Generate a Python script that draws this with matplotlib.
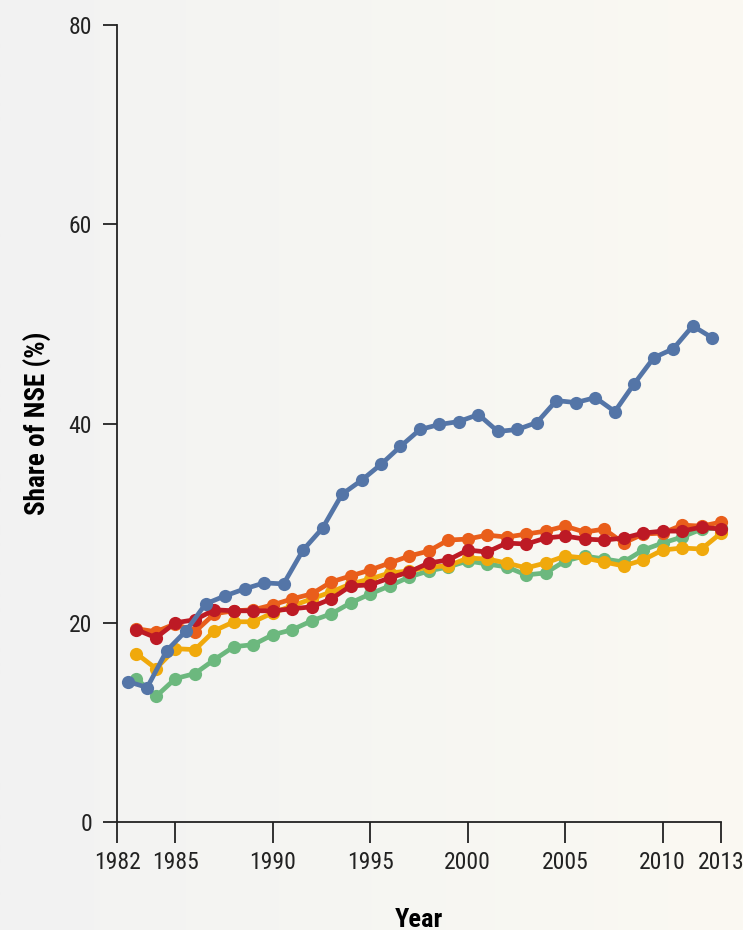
import numpy as np
import matplotlib
matplotlib.use("Agg")
import matplotlib.pyplot as plt
from matplotlib import font_manager
from matplotlib.colors import LinearSegmentedColormap

# ---------------- data ----------------
years = list(range(1983, 2014))
blue_offset = -0.45  # blue series plotted slightly left of the others

blue = [14.1, 13.5, 17.2, 19.2, 21.9, 22.7, 23.4, 24.0, 23.9, 27.3,
        29.5, 32.9, 34.3, 35.9, 37.7, 39.4, 39.9, 40.2, 40.9, 39.2,
        39.4, 40.1, 42.3, 42.1, 42.6, 41.2, 44.0, 46.6, 47.5, 49.8, 48.6]
red = [19.3, 18.5, 20.0, 20.3, 21.3, 21.2, 21.2, 21.2, 21.4, 21.6,
       22.4, 23.7, 23.8, 24.5, 25.1, 26.0, 26.3, 27.3, 27.1, 28.0,
       27.9, 28.5, 28.7, 28.4, 28.3, 28.5, 29.0, 29.2, 29.2, 29.6, 29.4]
orange = [19.4, 19.1, 19.9, 19.1, 20.9, 21.2, 21.3, 21.8, 22.4, 22.9,
          24.1, 24.7, 25.3, 26.0, 26.7, 27.2, 28.3, 28.4, 28.8, 28.6,
          28.9, 29.2, 29.7, 29.1, 29.4, 28.0, 28.9, 29.0, 29.8, 29.7, 30.1]
yellow = [16.9, 15.4, 17.4, 17.3, 19.2, 20.1, 20.1, 21.0, 21.7, 22.4,
          23.1, 23.9, 24.4, 25.0, 25.2, 25.6, 25.7, 26.5, 26.4, 26.0,
          25.5, 26.0, 26.7, 26.5, 26.1, 25.7, 26.3, 27.3, 27.5, 27.4, 29.0]
green = [14.4, 12.6, 14.4, 14.9, 16.3, 17.6, 17.8, 18.8, 19.3, 20.2,
         20.9, 22.0, 22.9, 23.7, 24.6, 25.2, 25.6, 26.2, 25.9, 25.6,
         24.8, 25.0, 26.2, 26.7, 26.4, 26.1, 27.3, 28.0, 28.6, 29.4, 29.5]

xticks = [1982, 1985, 1990, 1995, 2000, 2005, 2010, 2013]
yticks = [0, 20, 40, 60, 80]
xlabel = "Year"
ylabel = "Share of NSE (%)"

# ---------------- style ----------------
names = {f.name for f in font_manager.fontManager.ttflist}
prefs = ["Roboto Condensed", "Archivo Narrow", "PT Sans Narrow", "Pragati Narrow",
         "Fira Sans Condensed", "Encode Sans Condensed", "IBM Plex Sans Condensed",
         "Open Sans Condensed", "Barlow Semi Condensed", "Asap Condensed",
         "Liberation Sans Narrow"]
chosen = next((p for p in prefs if p in names), None)
fam = [chosen, "DejaVu Sans"] if chosen else ["DejaVu Sans"]
plt.rcParams["font.family"] = fam
if not chosen:
    plt.rcParams["font.stretch"] = "condensed"

fig = plt.figure(figsize=(7.43, 9.30), dpi=100)
fig.patch.set_facecolor("#f3f3f2")

# subtle background gradient (left grey -> right warm white)
bg = fig.add_axes([0, 0, 1, 1], zorder=-10)
grad = np.linspace(0, 1, 256).reshape(1, -1)
cm = LinearSegmentedColormap.from_list("bg", ["#f2f2f2", "#f6f6f3", "#fbf9f2"])
bg.imshow(grad, aspect="auto", cmap=cm, extent=[0, 1, 0, 1], interpolation="bilinear")
bg.set_xlim(0, 1)
bg.set_ylim(0, 1)
bg.axis("off")

ax = fig.add_axes([117/743, 108/930, 604/743, 797/930])
ax.patch.set_visible(False)

series = [
    (years, green, "#6cb87e"),
    (years, yellow, "#f0a90c"),
    (years, orange, "#e95e1b"),
    (years, red, "#bd1a25"),
    ([y + blue_offset for y in years], blue, "#5475a7"),
]
for i, (xs, ys, c) in enumerate(series):
    ax.plot(xs, ys, color=c, lw=3.4, marker="o", ms=9.5, mew=0,
            zorder=3 + i, clip_on=False)

ax.set_xlim(1982, 2013)
ax.set_ylim(0, 80)
ax.set_xticks(xticks)
ax.set_yticks(yticks)
for s in ["top", "right"]:
    ax.spines[s].set_visible(False)
for s in ["left", "bottom"]:
    ax.spines[s].set_linewidth(1.3)
    ax.spines[s].set_color("#222222")
ax.tick_params(axis="x", length=15, width=1.3, pad=6, labelsize=17, colors="#222222")
ax.tick_params(axis="y", length=10, width=1.3, pad=8, labelsize=17, colors="#222222")
ax.set_xlabel(xlabel, fontsize=19, fontweight="bold", labelpad=24)
ax.set_ylabel(ylabel, fontsize=19.5, fontweight="bold", labelpad=12)

fig.savefig("out.png", dpi=100, facecolor=fig.get_facecolor())
